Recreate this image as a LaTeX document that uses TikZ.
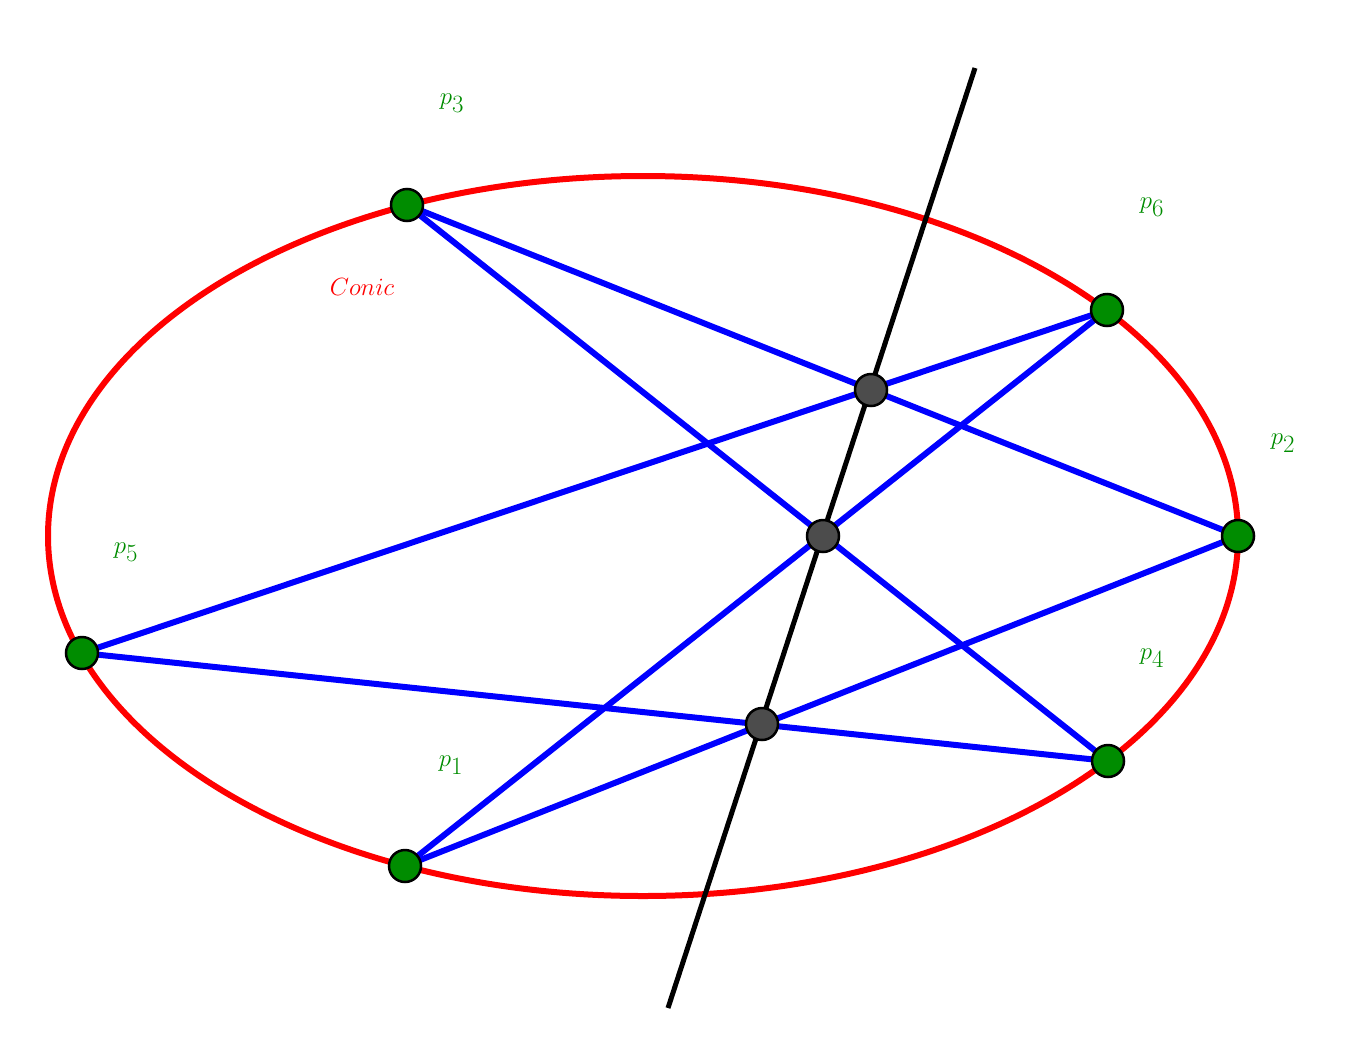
\documentclass[tikz,border=0pt]{standalone}
\begin{document}
\begin{tikzpicture}[x=1pt,y=-1pt,
  pt/.style={circle,draw=black,line width=2.5pt,fill=green!55!black,minimum size=32pt,inner sep=0pt},
  ip/.style={circle,draw=black,line width=2.5pt,fill=black!70,minimum size=32pt,inner sep=0pt},
  bl/.style={blue,line width=6pt},
  lab/.style={text=green!55!black,font=\fontsize{40}{48}\selectfont}]
\useasboundingbox (0,0) rectangle (1364,1055);
\draw[red,line width=6pt] (643,536) ellipse [x radius=595, y radius=360];
\coordinate (t) at (975,68); \coordinate (b) at (668,1008);
\draw[black,line width=5pt] (t) -- (b);
\coordinate (P3) at (407,205); \coordinate (P6) at (1107,310);
\coordinate (P2) at (1238,536); \coordinate (P5) at (82,653);
\coordinate (P1) at (405,866); \coordinate (P4) at (1108,761);
\draw[bl] (P3)--(P2); \draw[bl] (P3)--(P4); \draw[bl] (P6)--(P5);
\draw[bl] (P6)--(P1); \draw[bl] (P5)--(P4); \draw[bl] (P1)--(P2);
\node[ip] (i1) at (871,390) {}; \node[ip] (i2) at (823,536) {}; \node[ip] (i3) at (762,724) {};
\foreach \n in {1,...,6} \node[pt] (p\n) at (P\n) {};
\node[lab] (l3) at (452,103) {$p_3$};
\node[lab] (l6) at (1152,207) {$p_6$};
\node[lab] (l2) at (1283,443) {$p_2$};
\node[lab] (l5) at (126,552) {$p_5$};
\node[lab] (l1) at (451,765) {$p_1$};
\node[lab] (l4) at (1152,658) {$p_4$};
\node[text=red,font=\fontsize{40}{48}\selectfont] (c) at (362,287) {$Conic$};
\end{tikzpicture}
\end{document}
